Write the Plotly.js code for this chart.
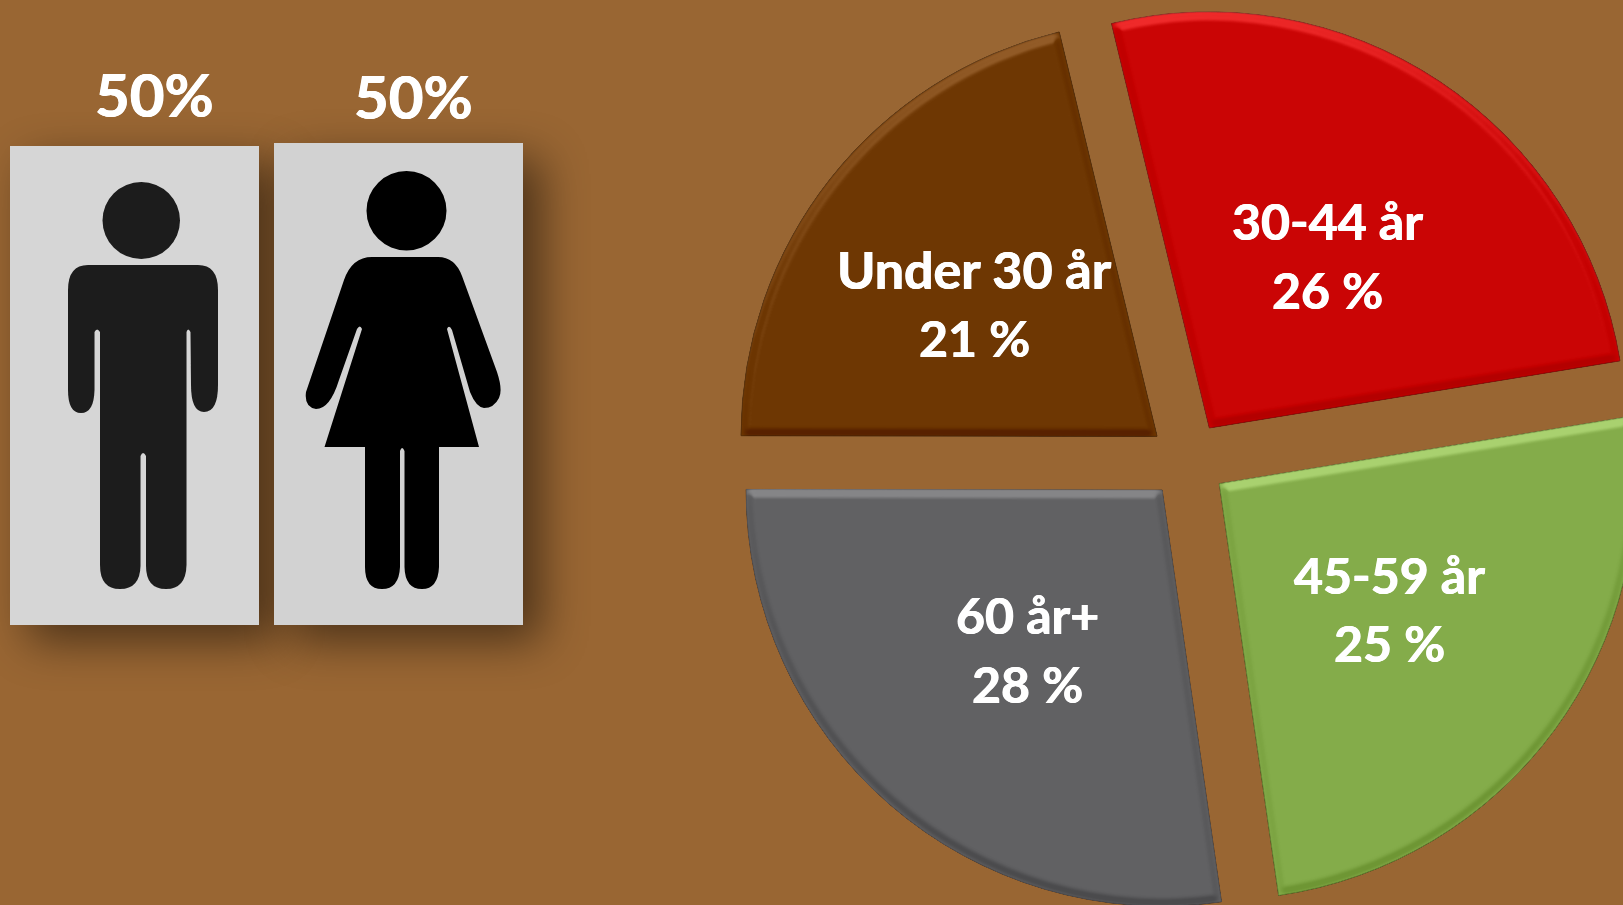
<!DOCTYPE html>
<html>
<head>
<meta charset="utf-8">
<script src="https://cdn.plot.ly/plotly-3.0.1.min.js"></script>
<style>
html,body{margin:0;padding:0;width:1623px;height:905px;overflow:hidden;background:#996633}
#chart{width:1700px;height:960px}
</style>
</head>
<body>
<div id="chart"></div>
<script>
// Age groups, clockwise from the top
const ageCategories = ['30-44 år', '45-59 år', '60 år+', 'Under 30 år'];
const ageShares = [26.2, 25.3, 27.3, 21.2];
// Numbers as printed on the slices
const agePrinted = [26, 25, 28, 21];
const ageColors = ['#CA0505', '#84AC4A', '#616163', '#6E3703'];
const ageEdges = ['#A01010', '#6A8C38', '#55555A', '#5A3008'];
const ageLabelX = [1327, 1389, 1027, 974];
const ageLabelY = [[221, 290], [575, 643], [615, 684], [269, 338]];
const ageLabelSize = [50, 50, 50, 52];

// Gender split
const genderValues = [50, 50];
const genderLabelX = [154, 413];
const genderLabelY = [94, 96];

const W = 1700, H = 960;
const pieCx = 1187.75, pieCy = 460.5, pieR = 416, pull = 0.094;
const half = pieR * (1 + pull);
const font = 'Lato, "Open Sans", sans-serif';
const thicken = '0.5px 0 0 #fff, -0.5px 0 0 #fff';

const annotations = [];
function addText(txt, x, y, size) {
  annotations.push({text: txt, x: x, y: y, xref: 'x', yref: 'y', showarrow: false,
    xanchor: 'center', yanchor: 'middle',
    font: {family: font, size: size, color: '#FFFFFF', weight: 700, shadow: thicken}});
}
ageCategories.forEach((c, i) => {
  addText('<b>' + c + '</b>', ageLabelX[i], ageLabelY[i][0], ageLabelSize[i]);
  addText('<b>' + agePrinted[i] + ' %</b>', ageLabelX[i], ageLabelY[i][1], 50);
});
genderValues.forEach((v, i) => addText('<b>' + v + '%</b>', genderLabelX[i], genderLabelY[i], 60));

const manPath = 'M 88 265 L 198 265 Q 218 265 218 290 L 218 385 Q 218 412 204 412 Q 191 412 191 385 L 190.5 332 Q 188 327 186.5 332 L 186.5 565 Q 186 589 166 589 Q 146 589 146 566 L 146 456 Q 143 450 140.5 456 L 140.5 566 Q 140 589 120 589 Q 100 589 100 565 L 100 332 Q 97 327 94.5 332 L 94.5 390 Q 94 413 81 413 Q 68 413 68 390 L 68 290 Q 68 265 88 265 Z';
const womanPath = 'M 372 257 L 438 257 Q 455 257 462 276 L 497 372 Q 503 390 499 398 Q 494 408 484 408 Q 476 407 470 392 L 452 330 Q 449 324 447 329 L 479 447 L 439 447 L 439 567 Q 438 589 422 589 Q 405 589 404.5 567 L 404.5 451 Q 402 445 400 451 L 400 567 Q 399 589 382 589 Q 365 589 365 567 L 365 447 L 324.5 447 L 362 329 Q 360 324 357 329 L 339 380 Q 330 409 316 409 Q 304 407 306 392 L 344 280 Q 352 257 372 257 Z';

const shapes = [
  {type: 'rect', x0: 10, x1: 259, y0: 146, y1: 625, fillcolor: '#000000', opacity: 0.5, line: {width: 0}, layer: 'below'},
  {type: 'rect', x0: 274, x1: 523, y0: 143, y1: 625, fillcolor: '#000000', opacity: 0.5, line: {width: 0}, layer: 'below'},
  {type: 'rect', x0: 10, x1: 259, y0: 146, y1: 625, fillcolor: '#D6D6D6', line: {width: 0}, layer: 'below'},
  {type: 'rect', x0: 274, x1: 523, y0: 143, y1: 625, fillcolor: '#D2D2D2', line: {width: 0}, layer: 'below'},
  {type: 'circle', x0: 102.5, x1: 180, y0: 182, y1: 259, fillcolor: '#1C1C1C', line: {width: 0}, layer: 'below'},
  {type: 'path', path: manPath, fillcolor: '#1C1C1C', line: {width: 0}, layer: 'below'},
  {type: 'circle', x0: 366.5, x1: 446.5, y0: 171, y1: 250.5, fillcolor: '#000000', line: {width: 0}, layer: 'below'},
  {type: 'path', path: womanPath, fillcolor: '#000000', line: {width: 0}, layer: 'below'}
].map(s => Object.assign({xref: 'x', yref: 'y'}, s));

const traces = [
  {type: 'scatter', x: [], y: [], hoverinfo: 'skip', showlegend: false},
  {type: 'pie', labels: ageCategories, values: ageShares, sort: false, direction: 'clockwise',
   rotation: -13.6, pull: pull, textinfo: 'none', showlegend: false, hoverinfo: 'label',
   marker: {colors: ageColors, line: {color: ageEdges, width: 1}},
   domain: {x: [(pieCx - half) / W, (pieCx + half) / W],
            y: [(H - pieCy - half) / H, (H - pieCy + half) / H]}}
];

const layout = {
  width: W, height: H, autosize: false,
  margin: {l: 0, r: 0, t: 0, b: 0, pad: 0},
  paper_bgcolor: '#996633', plot_bgcolor: 'rgba(0,0,0,0)',
  showlegend: false,
  xaxis: {visible: false, range: [0, W], fixedrange: true},
  yaxis: {visible: false, range: [H, 0], fixedrange: true},
  shapes: shapes, annotations: annotations
};

Plotly.newPlot('chart', traces, layout, {displayModeBar: false, staticPlot: true}).then(gd => {
  const NS = 'http://www.w3.org/2000/svg';
  const svg = gd.querySelector('svg.main-svg');
  const defs = document.createElementNS(NS, 'defs');
  defs.innerHTML =
    '<filter id="softShadow" filterUnits="userSpaceOnUse" x="-100" y="0" width="800" height="800">' +
      '<feGaussianBlur stdDeviation="23"/></filter>' +
    '<filter id="softEdge" x="-5%" y="-5%" width="110%" height="110%">' +
      '<feGaussianBlur stdDeviation="0.7"/></filter>' +
    '<filter id="bevel" x="-5%" y="-5%" width="110%" height="110%" color-interpolation-filters="sRGB">' +
      '<feMorphology in="SourceAlpha" operator="erode" radius="4" result="e"/>' +
      '<feGaussianBlur in="e" stdDeviation="2.5" result="b"/>' +
      '<feDiffuseLighting in="b" surfaceScale="4" diffuseConstant="0.707" lighting-color="#ffffff" result="l0">' +
        '<feDistantLight azimuth="262" elevation="45"/></feDiffuseLighting>' +
      '<feComponentTransfer in="l0" result="l">' +
        '<feFuncR type="table" tableValues="0.38 0.5 1"/><feFuncG type="table" tableValues="0.38 0.5 1"/><feFuncB type="table" tableValues="0.38 0.5 1"/>' +
      '</feComponentTransfer>' +
      '<feComposite in="SourceGraphic" in2="l" operator="arithmetic" k1="0" k2="1" k3="0.7" k4="-0.35" result="c"/>' +
      '<feComposite in="c" in2="SourceAlpha" operator="in"/>' +
    '</filter>';
  svg.insertBefore(defs, svg.firstChild);
  const shapeEls = gd.querySelectorAll('.shapelayer path');
  shapeEls.forEach(el => {
    const i = +el.getAttribute('data-index');
    if (i === 0 || i === 1) {
      const cur = el.getAttribute('transform') || '';
      el.setAttribute('transform', cur + ' translate(18,16)');
      el.setAttribute('filter', 'url(#softShadow)');
    } else if (i >= 4) {
      el.setAttribute('filter', 'url(#softEdge)');
    }
  });
  gd.querySelectorAll('.slice path.surface').forEach(el => el.setAttribute('filter', 'url(#bevel)'));
});
</script>
</body>
</html>
